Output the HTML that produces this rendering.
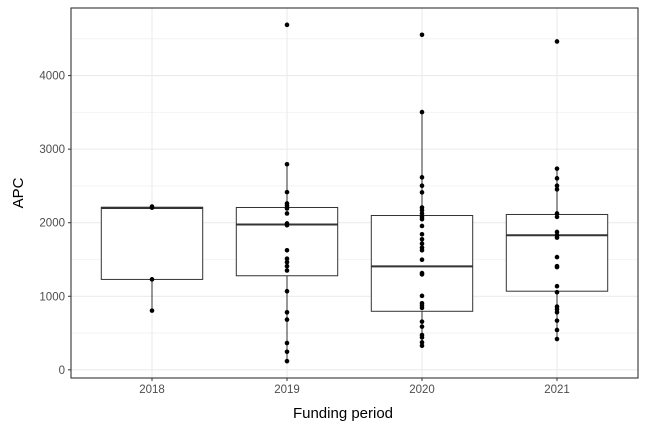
<!DOCTYPE html>
<html><head><meta charset="utf-8"><style>
html,body{margin:0;padding:0;background:#fff;}
svg text{font-family:"Liberation Sans",sans-serif;}
</style></head><body>
<svg id="chart" width="648" height="432" viewBox="0 0 648 432">
<rect x="0" y="0" width="648" height="432" fill="#fff"/>
<g id="grid"></g><g id="marks"></g><g id="axes"></g>
<text x="343" y="418" text-anchor="middle" font-size="15" fill="#000">Funding period</text>
<text transform="translate(23,193) rotate(-90)" text-anchor="middle" font-size="15" fill="#000">APC</text>
</svg>
<script>
const categories = ["2018","2019","2020","2021"];
const q1 = [1229, 1279, 796, 1069];
const medians = [2200, 1975, 1406, 1829];
const q3 = [2211, 2207, 2098, 2112];
const whiskerLow = [805, 118, 328, 419];
const whiskerHigh = [2220, 2795, 3504, 2735];
const points2018 = [2220, 2205, 1230, 805];
const points2019 = [4690, 2795, 2416, 2262, 2230, 2194, 2126, 1990, 1966, 1625, 1511, 1465, 1410, 1351, 1069, 782, 683, 364, 246, 118];
const points2020 = [4555, 3504, 2617, 2503, 2412, 2207, 2170, 2126, 2080, 2048, 1956, 1843, 1775, 1716, 1661, 1625, 1497, 1315, 1297, 1006, 905, 874, 842, 655, 587, 473, 441, 373, 328];
const points2021 = [4464, 2735, 2603, 2503, 2453, 2126, 2080, 1874, 1829, 1798, 1533, 1410, 1397, 1137, 1055, 860, 823, 782, 669, 542, 419];
const yTicks = [0, 1000, 2000, 3000, 4000];
const yMinor = [500, 1500, 2500, 3500, 4500];

const NS = "http://www.w3.org/2000/svg";
const L = 71, R = 638, T = 8, B = 378;
const yMin = -111, yMax = 4919;
function y(v){ return B - (v - yMin) / (yMax - yMin) * (B - T); }
function x(i){ return L + (i + 0.6) / (categories.length + 0.2) * (R - L); }
function mk(tag, attrs, parent){ const e = document.createElementNS(NS, tag); for (const k in attrs) e.setAttribute(k, attrs[k]); parent.appendChild(e); return e; }
const grid = document.getElementById("grid"), marks = document.getElementById("marks"), axes = document.getElementById("axes");
mk("rect", {x:L, y:T, width:R-L, height:B-T, fill:"#fff"}, grid);
yMinor.forEach(v => {
  const l = mk("line", {x1:L, x2:R, y1:y(v), y2:y(v), stroke:"#ebebeb", "stroke-width":0.6}, grid);
  
  
});
yTicks.forEach(v => {
  const l = mk("line", {x1:L, x2:R, y1:y(v), y2:y(v), stroke:"#ebebeb", "stroke-width":1.1}, grid);
  
  
  const tk = mk("line", {x1:L-3, x2:L, y1:y(v), y2:y(v), stroke:"#333", "stroke-width":1}, axes);
  
  
  const t = mk("text", {x:L-6, y:y(v)+4, "text-anchor":"end", "font-size":11.5, fill:"#4d4d4d"}, axes);
  t.textContent = v;
  
  
});
categories.forEach((c, i) => {
  const l = mk("line", {x1:x(i), x2:x(i), y1:T, y2:B, stroke:"#ebebeb", "stroke-width":1.1}, grid);
  
  
  const tk = mk("line", {x1:x(i), x2:x(i), y1:B, y2:B+3, stroke:"#333", "stroke-width":1}, axes);
  
  
  const t = mk("text", {x:x(i), y:B+15, "text-anchor":"middle", "font-size":11.5, fill:"#4d4d4d"}, axes);
  t.textContent = c;
  
  
});
const allPoints = [points2018, points2019, points2020, points2021];
const hw = 50.7;
categories.forEach((c, i) => {
  const cx = x(i);
  const g = mk("g", {}, marks);
  
  
  const w1 = mk("line", {x1:cx, x2:cx, y1:y(q3[i]), y2:y(whiskerHigh[i]), stroke:"#333", "stroke-width":1}, g);
  
  
  const w2 = mk("line", {x1:cx, x2:cx, y1:y(q1[i]), y2:y(whiskerLow[i]), stroke:"#333", "stroke-width":1}, g);
  
  
  const r = mk("rect", {x:cx-hw, y:y(q3[i]), width:2*hw, height:y(q1[i])-y(q3[i]), fill:"#fff", stroke:"#333", "stroke-width":1}, g);
  
  
  const m = mk("line", {x1:cx-hw, x2:cx+hw, y1:y(medians[i]), y2:y(medians[i]), stroke:"#333", "stroke-width":2}, g);
  
  
  allPoints[i].forEach(v => {
    const p = mk("circle", {cx:cx, cy:y(v), r:2.3, fill:"#000"}, g);
    
    
  });
});
const frame = mk("rect", {x:L, y:T, width:R-L, height:B-T, fill:"none", stroke:"#333", "stroke-width":1.1}, axes);


</script>
</body></html>
